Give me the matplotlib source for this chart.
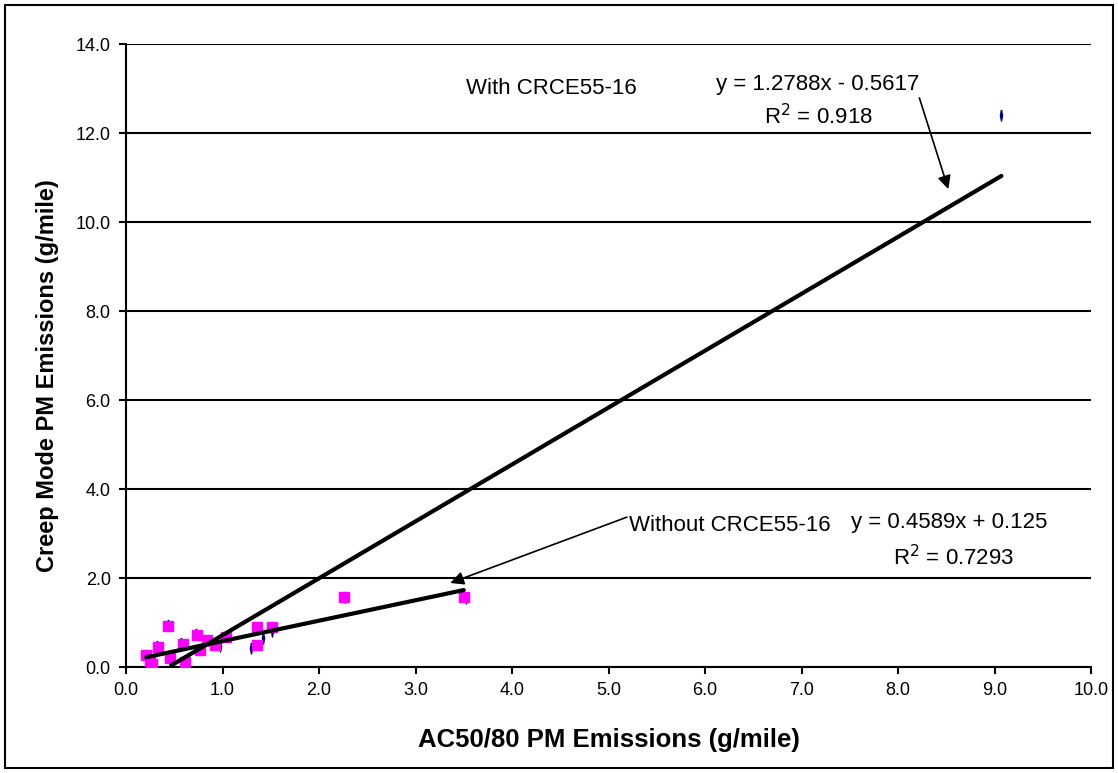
import matplotlib
matplotlib.use("Agg")
import matplotlib.pyplot as plt
from matplotlib.patches import Rectangle
import numpy as np

plt.rcParams['font.family'] = ['Liberation Sans', 'DejaVu Sans']

# Vehicles tested without the CRCE55-16 outlier (magenta squares)
x_without = [0.21, 0.25, 0.27, 0.33, 0.43, 0.46, 0.59, 0.61, 0.74, 0.77,
             0.84, 0.92, 1.04, 1.36, 1.36, 1.51, 2.26, 3.50]
y_without = [0.27, 0.14, 0.08, 0.46, 0.93, 0.20, 0.53, 0.12, 0.72, 0.38,
             0.61, 0.49, 0.68, 0.91, 0.49, 0.91, 1.57, 1.57]

# All vehicles including CRCE55-16 (navy markers)
x_with = [0.20, 0.26, 0.28, 0.32, 0.44, 0.47, 0.57, 0.62, 0.73, 0.78,
          0.85, 0.97, 1.04, 1.30, 1.42, 1.51, 2.27, 3.52, 9.07]
y_with = [0.28, 0.15, 0.10, 0.47, 0.95, 0.22, 0.55, 0.14, 0.74, 0.40,
          0.62, 0.48, 0.69, 0.43, 0.66, 0.80, 1.58, 1.56, 12.40]

# Linear trendlines (slope, intercept)
fit_with = (1.2788, -0.5617)
fit_without = (0.4589, 0.125)

x_ticks = np.arange(0, 10.01, 1.0)
y_ticks = np.arange(0, 14.01, 2.0)

fig = plt.figure(figsize=(11.18, 7.73), dpi=100)
ax = fig.add_axes([0.1127, 0.137, 0.8633, 0.806])

ax.set_xlim(0, 10)
ax.set_ylim(0, 14)
ax.set_xticks(x_ticks)
ax.set_yticks(y_ticks)
ax.set_xticklabels([f"{v:.1f}" for v in x_ticks])
ax.set_yticklabels([f"{v:.1f}" for v in y_ticks])
ax.tick_params(axis='both', direction='out', length=5, width=1.5,
               labelsize=13, colors='black', pad=6)

ax.yaxis.grid(True, color='black', linewidth=1.5)
ax.set_axisbelow(True)
for side in ('top', 'right'):
    ax.spines[side].set_visible(False)
for side in ('left', 'bottom'):
    ax.spines[side].set_linewidth(1.5)

# Thin vertical diamond marker for the navy series
thin_diamond = [(0, 1), (0.2, 0), (0, -1), (-0.2, 0), (0, 1)]
ax.plot(x_with, y_with, linestyle='none', marker=thin_diamond,
        markersize=8, color='#000080', zorder=3)
ax.plot(x_without, y_without, linestyle='none', marker='s',
        markersize=7.5, color='#FF00FF', zorder=4)

# Trendlines spanning each series' x-range (clipped at the axis floor)
xs = np.linspace(min(x_with), max(x_with), 200)
ys = fit_with[0] * xs + fit_with[1]
mask = ys >= 0
ax.plot(xs[mask], ys[mask], color='black', linewidth=3, zorder=5,
        solid_capstyle='round')
xs2 = np.linspace(min(x_without), max(x_without), 200)
ax.plot(xs2, fit_without[0] * xs2 + fit_without[1], color='black',
        linewidth=3, zorder=5, solid_capstyle='round')

# Annotations
tsize = 16
ax.text(3.52, 13.01, "With CRCE55-16", fontsize=tsize, va='center', ha='left')
ax.text(7.17, 13.1, "y = 1.2788x - 0.5617", fontsize=tsize, va='center', ha='center')
ax.text(7.17, 12.38, "R$^2$ = 0.918", fontsize=tsize, va='center', ha='center')
ax.annotate("", xy=(8.52, 10.74), xytext=(8.22, 12.79),
            arrowprops=dict(arrowstyle='-|>', color='black', lw=1.2,
                            mutation_scale=20, shrinkA=0, shrinkB=0))

ax.text(5.21, 3.19, "Without CRCE55-16", fontsize=tsize, va='center', ha='left')
ax.text(7.51, 3.24, "y = 0.4589x + 0.125", fontsize=tsize, va='center', ha='left')
ax.text(7.95, 2.47, "R$^2$ = 0.7293", fontsize=tsize, va='center', ha='left')
ax.annotate("", xy=(3.36, 1.89), xytext=(5.19, 3.37),
            arrowprops=dict(arrowstyle='-|>', color='black', lw=1.2,
                            mutation_scale=20, shrinkA=0, shrinkB=0))

ax.set_xlabel("AC50/80 PM Emissions (g/mile)", fontsize=18.5, fontweight='bold')
ax.set_ylabel("Creep Mode PM Emissions (g/mile)", fontsize=17, fontweight='bold')
ax.xaxis.set_label_coords(0.5, -0.097)
ax.yaxis.set_label_coords(-0.069, 0.468)

# Outer chart border
fig.patches.append(Rectangle((5 / 1118, 5 / 773), 1108 / 1118, 763 / 773,
                             transform=fig.transFigure, fill=False,
                             edgecolor='black', linewidth=1.5))

fig.savefig("out.png", dpi=100)
